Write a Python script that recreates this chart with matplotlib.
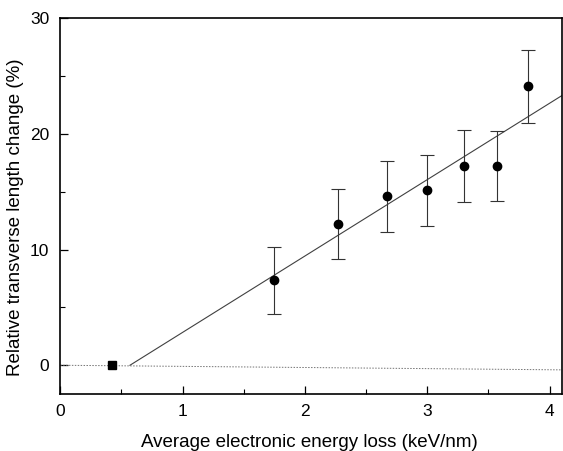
import matplotlib
matplotlib.use("Agg")
import matplotlib.pyplot as plt
from matplotlib.ticker import MultipleLocator

plt.rcParams['font.family'] = ['Liberation Sans', 'DejaVu Sans']

# measured points (keV/nm, %)
energy_loss = [1.75, 2.27, 2.67, 3.00, 3.30, 3.57, 3.82]
length_change = [7.35, 12.2, 14.6, 15.1, 17.2, 17.2, 24.1]
err = [2.9, 3.0, 3.05, 3.05, 3.1, 3.05, 3.15]

# point below threshold
low_x = [0.42]
low_y = [0.0]

# linear fit, threshold ~0.57 keV/nm
fit_x = [0.57, 4.1]
fit_y = [0.0, 23.3]

# dotted zero line (slightly tilted as in the scan)
zero_x = [0.0, 4.1]
zero_y = [0.0, -0.4]

fig = plt.figure(figsize=(5.63, 4.51), dpi=100)
ax = fig.add_axes([0.107, 0.126, 0.891, 0.834])

ax.plot(zero_x, zero_y, color='0.45', linestyle=(0, (1.5, 1.5)), linewidth=0.7)
ax.plot(fit_x, fit_y, color='0.25', linewidth=0.8)
ax.errorbar(energy_loss, length_change, yerr=err, fmt='o', color='black',
            ecolor='0.2', elinewidth=0.8, capsize=4.8, capthick=0.8,
            markersize=6)
ax.plot(low_x, low_y, 's', color='black', markersize=6)

ax.set_xlim(0, 4.1)
ax.set_ylim(-2.5, 30)
ax.xaxis.set_major_locator(MultipleLocator(1))
ax.xaxis.set_minor_locator(MultipleLocator(0.5))
ax.yaxis.set_major_locator(MultipleLocator(10))
ax.yaxis.set_minor_locator(MultipleLocator(5))
ax.tick_params(which='both', direction='in', top=False, right=False, labelsize=12.5)
ax.tick_params(which='major', length=6, width=0.9)
ax.tick_params(which='minor', length=3.5, width=0.8)
ax.tick_params(axis='x', pad=7)
ax.tick_params(axis='y', pad=8)
for s in ax.spines.values():
    s.set_linewidth(1.2)

ax.set_xlabel('Average electronic energy loss (keV/nm)', fontsize=13.5)
ax.set_ylabel('Relative transverse length change (%)', fontsize=13.5)
ax.xaxis.set_label_coords(0.496, -0.105)
ax.yaxis.set_label_coords(-0.072, 0.47)

fig.savefig('out.png', dpi=100)
